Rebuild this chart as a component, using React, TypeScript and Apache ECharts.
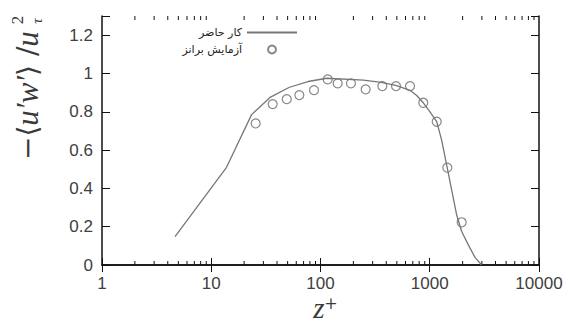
import React, { useEffect, useRef } from "react";
import * as echarts from "echarts";

const xTickLabels = ["1", "10", "100", "1000", "10000"];
const yTickLabels = ["0", "0.2", "0.4", "0.6", "0.8", "1", "1.2"];
const seriesNames = ["کار حاضر", "آزمایش برانز"];

// present work (solid line)
const presentZ = [4.66, 13.8, 23.4, 34.5, 52, 77, 114, 247, 360, 498, 660, 760, 873, 1005, 1158, 1285, 1429, 1588, 1765, 1960, 2254, 2594, 2987];
const presentStress = [0.148, 0.51, 0.785, 0.875, 0.928, 0.958, 0.975, 0.965, 0.953, 0.936, 0.912, 0.885, 0.847, 0.8, 0.748, 0.652, 0.522, 0.391, 0.261, 0.175, 0.105, 0.04, 0];

// Brown experiment (circles)
const brownZ = [25.5, 36.5, 49.1, 64, 87.2, 116.4, 143.6, 190, 259, 368, 491, 660, 873, 1158, 1448, 1960];
const brownStress = [0.739, 0.84, 0.866, 0.887, 0.913, 0.969, 0.948, 0.948, 0.917, 0.934, 0.934, 0.934, 0.847, 0.748, 0.508, 0.223];

const minorTickValues = [2, 3, 4, 5, 6, 7, 8, 9, 20, 30, 40, 50, 60, 70, 80, 90, 200, 300, 400, 500, 600, 700, 800, 900, 2000, 3000, 4000, 5000, 6000, 7000, 8000, 9000];

const axisColor = "#111";
const labelColor = "#404040";
const dataColor = "#777";
const titleColor = "#3a3a3a";

export default function App() {
  const ref = useRef<HTMLDivElement>(null);
  useEffect(() => {
    if (!ref.current) return;
    const chart = echarts.init(ref.current, null, { renderer: "svg" });
    const labelFont = { fontFamily: "Liberation Sans", fontSize: 17, color: labelColor };
    const option: any = {
      animation: false,
      backgroundColor: "#fff",
      grid: { left: 102, right: 29, top: 16, bottom: 58, containLabel: false },
      legend: {
        data: [
          { name: seriesNames[0], itemStyle: { opacity: 0 } },
          { name: seriesNames[1] },
        ],
        orient: "vertical",
        align: "right",
        right: 265,
        top: 22,
        itemWidth: 50,
        itemHeight: 8,
        itemGap: 6,
        textStyle: { fontFamily: "DejaVu Sans", fontSize: 11, color: "#222" },
      },
      xAxis: [
        {
          type: "log",
          logBase: 10,
          min: 1,
          max: 10000,
          position: "bottom",
          axisLine: { lineStyle: { color: axisColor, width: 1.5 } },
          axisTick: { inside: true, length: 7, lineStyle: { color: axisColor, width: 1 } },
          axisLabel: {
            ...labelFont,
            margin: 10,
            formatter: (v: number) => xTickLabels[Math.round(Math.log10(v))] ?? "",
          },
          splitLine: { show: false },
        },
        {
          type: "log",
          logBase: 10,
          min: 1,
          max: 10000,
          position: "top",
          axisLine: { lineStyle: { color: axisColor, width: 1.5 } },
          axisTick: { inside: true, length: 7, lineStyle: { color: axisColor, width: 1 } },
          axisLabel: { show: false },
          splitLine: { show: false },
        },
      ],
      yAxis: [
        {
          type: "value",
          min: 0,
          max: 1.3,
          interval: 0.2,
          position: "left",
          axisLine: { show: true, lineStyle: { color: axisColor, width: 1.5 } },
          axisTick: { show: true, inside: true, length: 8, lineStyle: { color: axisColor, width: 1 } },
          axisLabel: {
            ...labelFont,
            margin: 9,
            formatter: (v: number) => (v > 1.25 ? "" : yTickLabels[Math.round(v / 0.2)] ?? ""),
          },
          splitLine: { show: false },
        },
        {
          type: "value",
          min: 0,
          max: 1.3,
          interval: 0.2,
          position: "right",
          axisLine: { show: true, lineStyle: { color: axisColor, width: 1.5 } },
          axisTick: { show: true, inside: true, length: 8, lineStyle: { color: axisColor, width: 1 } },
          axisLabel: { show: false },
          splitLine: { show: false },
        },
      ],
      series: [
        {
          name: seriesNames[0],
          type: "line",
          data: presentZ.map((z, i) => [z, presentStress[i]]),
          symbol: "none",
          lineStyle: { color: dataColor, width: 1.3 },
          itemStyle: { color: dataColor },
        },
        {
          name: seriesNames[1],
          type: "scatter",
          data: brownZ.map((z, i) => [z, brownStress[i]]),
          symbol: "circle",
          symbolSize: 9,
          itemStyle: { color: "rgba(0,0,0,0)", borderColor: "#6a6a6a", borderWidth: 1.2 },
        },
        {
          name: "minor",
          type: "custom",
          silent: true,
          clip: false,
          data: minorTickValues.map((v) => [v, 0]),
          encode: { x: 0, y: 1 },
          renderItem: (params: any, api: any) => {
            const v = api.value(0);
            const b = api.coord([v, 0]);
            const t = api.coord([v, 1.3]);
            return {
              type: "group",
              children: [
                { type: "line", shape: { x1: b[0], y1: b[1], x2: b[0], y2: b[1] - 4 }, style: { stroke: axisColor, lineWidth: 1 } },
                { type: "line", shape: { x1: t[0], y1: t[1], x2: t[0], y2: t[1] + 4 }, style: { stroke: axisColor, lineWidth: 1 } },
              ],
            };
          },
        },
      ],
      graphic: [
        {
          type: "text",
          x: 43,
          y: 160,
          rotation: Math.PI / 2,
          style: {
            text: "{n|−⟨}{i|u′w′}{n|⟩ /}{i|u}",
            verticalAlign: "bottom",
            align: "left",
            fill: titleColor,
            rich: {
              n: { fontFamily: "DejaVu Serif", fontSize: 28, fill: titleColor },
              i: { fontFamily: "Liberation Serif", fontStyle: "italic", fontSize: 31, fill: titleColor },
            },
          },
        },
        {
          type: "text",
          x: 17,
          y: 20,
          rotation: Math.PI / 2,
          style: { text: "2", fontFamily: "Liberation Serif", fontSize: 17, fill: titleColor, verticalAlign: "middle", align: "center" },
        },
        {
          type: "text",
          x: 37,
          y: 21,
          rotation: Math.PI / 2,
          style: { text: "τ", fontFamily: "Liberation Serif", fontStyle: "italic", fontSize: 15, fill: titleColor, verticalAlign: "middle", align: "center" },
        },
        {
          type: "text",
          x: 319,
          y: 308,
          style: { text: "z", fontFamily: "Liberation Serif", fontStyle: "italic", fontSize: 29, lineHeight: 24, fill: titleColor, verticalAlign: "middle", align: "center" },
        },
        {
          type: "text",
          x: 331,
          y: 303,
          style: { text: "+", fontFamily: "DejaVu Serif", fontSize: 16, fill: titleColor, verticalAlign: "middle", align: "center" },
        },
      ],
    };
    chart.setOption(option);
    return () => chart.dispose();
  }, []);
  return <div ref={ref} style={{ width: 568, height: 323, position: "absolute", left: 0, top: 0 }} />;
}
